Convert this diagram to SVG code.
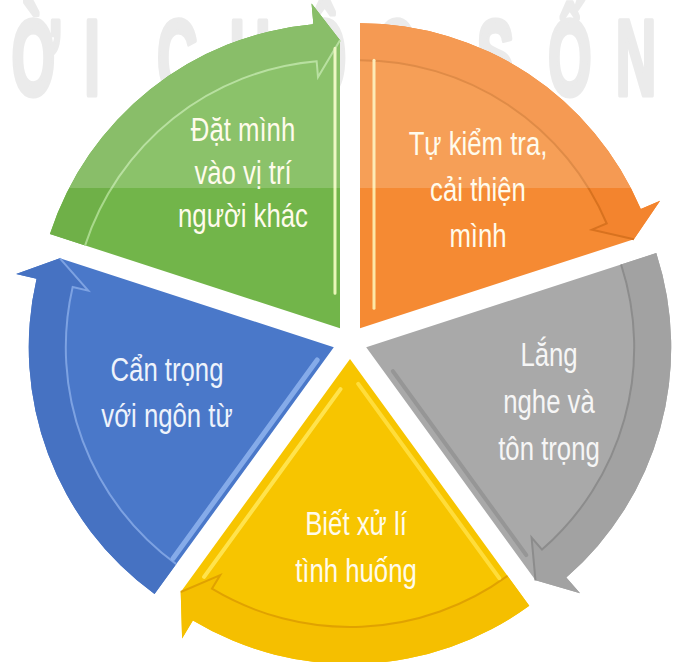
<svg xmlns="http://www.w3.org/2000/svg" xmlns:xlink="http://www.w3.org/1999/xlink" width="678" height="662" viewBox="0 0 678 662">
<style>
.lbl{font-family:"Liberation Sans",Arial,sans-serif;font-size:33px;fill:#fffbec;text-anchor:middle}
.bg{font-family:"Liberation Sans",Arial,sans-serif;font-size:108px;font-weight:bold;fill:#ebebeb;stroke:#ebebeb;stroke-width:5;stroke-linejoin:round}
.inl{fill:none;stroke-width:2}
.hl{fill:none;stroke-linecap:round}
</style>
<defs>
<path id="sec" d="M0,0 L305,0 A305,305 0 0 1 119.2,280.8 L127.4,300.1 L89,273.9 Z"/>
<path id="band" d="M305,0 A305,305 0 0 1 119.2,280.8 L127.4,300.1 L89,273.9 L98.5,232 L104.7,246.7 A268,268 0 0 0 268,0 Z"/>
<path id="inner" d="M268,0 A268,268 0 0 1 104.7,246.7 L98.5,232 L89,273.9"/>
<clipPath id="clipG"><use xlink:href="#sec" transform="translate(340,328.2) rotate(198)"/></clipPath>
<clipPath id="clipO"><use xlink:href="#sec" transform="translate(360,328.2) rotate(270)"/></clipPath>
</defs>
<rect width="678" height="662" fill="#ffffff"/>
<text class="bg" transform="scale(0.52,1)" y="95" x="22 162 230 302 442 582 722 840 917 1054 1184">ỜI CUỘC SỐN</text>
<g id="seg-green">
<g transform="translate(340,328.2) rotate(198)">
<use xlink:href="#sec" fill="#72b54a"/>
<use xlink:href="#band" fill="#6fb048"/>
<use xlink:href="#inner" class="inl" stroke="#a9d98c"/>
<path class="hl" d="M15.6,31.8 L91.3,264.8" stroke="#e9f6b8" stroke-width="3"/>
</g>
<rect x="0" y="0" width="678" height="188" fill="#ffffff" opacity="0.18" clip-path="url(#clipG)"/>
<text class="lbl" transform="translate(243,0) scale(0.78,1)"><tspan x="0" y="141">Đặt mình</tspan><tspan x="0" y="184">vào vị trí</tspan><tspan x="0" y="227">người khác</tspan></text>
</g>
<g id="seg-orange">
<g transform="translate(360,328.2) rotate(270)">
<use xlink:href="#sec" fill="#f58a33"/>
<use xlink:href="#band" fill="#f3842e"/>
<use xlink:href="#inner" class="inl" stroke="#d8721f"/>
<path class="hl" d="M20,14 L268,14" stroke="#fde7a6" stroke-width="3"/>
</g>
<rect x="0" y="0" width="678" height="188" fill="#ffffff" opacity="0.18" clip-path="url(#clipO)"/>
<text class="lbl" transform="translate(478,0) scale(0.78,1)"><tspan x="0" y="155">Tự kiểm tra,</tspan><tspan x="0" y="201">cải thiện</tspan><tspan x="0" y="247">mình</tspan></text>
</g>
<g id="seg-gray">
<g transform="translate(366.2,347.3) rotate(342)">
<use xlink:href="#sec" fill="#a9a9a9"/>
<use xlink:href="#band" fill="#a2a2a2"/>
<use xlink:href="#inner" class="inl" stroke="#8c8c8c"/>
<path class="hl" d="M18,31 L88,247" stroke="#969696" stroke-width="4"/>
</g>
<text class="lbl" transform="translate(549,0) scale(0.78,1)" style="fill:#f6f6f6"><tspan x="0" y="366">Lắng</tspan><tspan x="0" y="413">nghe và</tspan><tspan x="0" y="460">tôn trọng</tspan></text>
</g>
<g id="seg-yellow">
<g transform="translate(350,359) rotate(54)">
<use xlink:href="#sec" fill="#f7c500"/>
<use xlink:href="#band" fill="#f5bf00"/>
<use xlink:href="#inner" class="inl" stroke="#e0a200"/>
<path class="hl" d="M18.8,25.4 L90.5,246.1" stroke="#ffe34d" stroke-width="4"/>
<path class="hl" d="M25,8 L265,8" stroke="#ffdd3a" stroke-width="4"/>
</g>
<text class="lbl" transform="translate(356,0) scale(0.78,1)"><tspan x="0" y="535">Biết xử lí</tspan><tspan x="0" y="582">tình huống</tspan></text>
</g>
<g id="seg-blue">
<g transform="translate(333.8,347.3) rotate(126)">
<use xlink:href="#sec" fill="#4a78c9"/>
<use xlink:href="#band" fill="#4672c2"/>
<use xlink:href="#inner" class="inl" stroke="#7da2e2"/>
<path class="hl" d="M20,6 L265,6" stroke="#8fb4ee" stroke-width="5" opacity="0.85"/>
</g>
<text class="lbl" transform="translate(167,0) scale(0.78,1)" style="fill:#eef3fb"><tspan x="0" y="381">Cẩn trọng</tspan><tspan x="0" y="427">với ngôn từ</tspan></text>
</g>
<g id="connectors"></g>
</svg>
